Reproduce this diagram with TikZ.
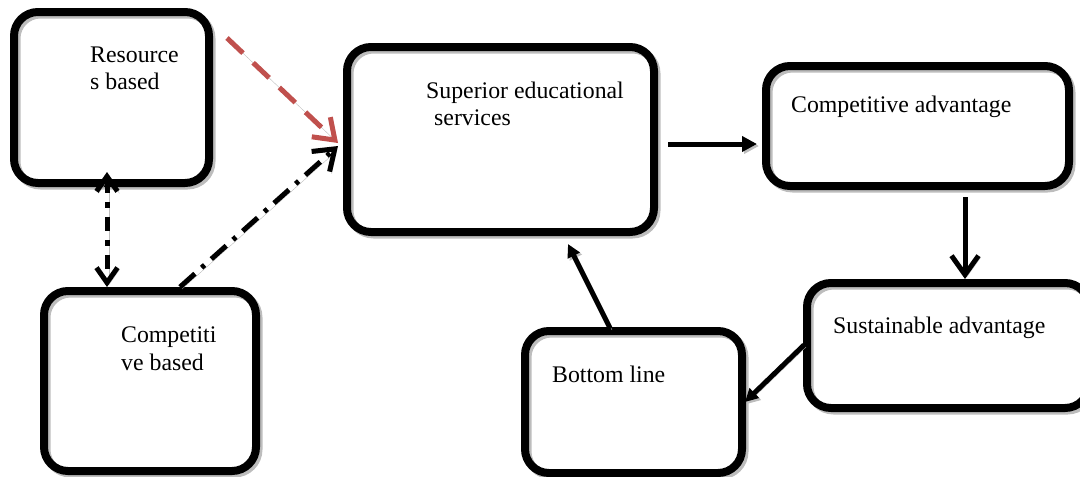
\documentclass[tikz,border=0pt]{standalone}
\usepackage{fontspec}
\setmainfont{Liberation Serif}
\usetikzlibrary{arrows.meta}
\definecolor{redarrow}{HTML}{C0504D}
\definecolor{shadowgray}{HTML}{BDBDBD}
\tikzset{
  box/.style={draw=black, line width=8pt, rounded corners=24pt, inner sep=0pt,
    preaction={draw=shadowgray, line width=8pt, transform canvas={shift={(2.5pt,-2.5pt)}}}},
  lbl/.style={anchor=base west, inner sep=0pt, font=\fontsize{23.8}{27}\selectfont},
  conn/.style={line width=5pt,
    preaction={draw=shadowgray, transform canvas={shift={(2pt,-2pt)}}}},
  bigbarb/.style={-{Straight Barb[length=19pt,width=27pt]}},
  tri/.style={-{Triangle[length=15pt,width=15pt]}},
  dashdot/.style={dash pattern=on 20pt off 9pt on 4pt off 9pt},
}
\begin{document}
\begin{tikzpicture}[x=1pt,y=-1pt]
\useasboundingbox (0,0) rectangle (1080,477);
% boxes
\node[box, minimum width=195pt, minimum height=171pt] (res) at (111.5,97.5) {};
\node[box, minimum width=212pt, minimum height=180pt] (cb) at (150,381) {};
\node[box, minimum width=307pt, minimum height=185pt] (sup) at (500.5,139.5) {};
\node[box, minimum width=303pt, minimum height=120pt] (ca) at (917.5,126) {};
\node[box, minimum width=282pt, minimum height=125pt] (sa) at (948,345.5) {};
\node[box, minimum width=217pt, minimum height=142pt] (bl) at (633.5,402) {};
% texts
\node[lbl] (t1a) at (90,62) {Resource};
\node[lbl] (t1b) at (90,89) {s based};
\node[lbl] (t2a) at (121,342) {Competiti};
\node[lbl] (t2b) at (121,370) {ve based};
\node[lbl] (t3a) at (426,98) {Superior educational};
\node[lbl] (t3b) at (434,125) {services};
\node[lbl] (t4) at (791,112) {Competitive advantage};
\node[lbl] (t5) at (833,333) {Sustainable advantage};
\node[lbl] (t6) at (552,382) {Bottom line};
% connector end points
\coordinate (r1) at (227,38);
\coordinate (s1) at (338,143);
\coordinate (s2) at (338,146);
\coordinate (c1) at (180,287);
\coordinate (v1) at (107,172);
\coordinate (v2) at (107,287);
\coordinate (h1) at (668,144);
\coordinate (h2) at (757,144);
\coordinate (d1) at (965,197);
\coordinate (d2) at (965,279);
\coordinate (b1) at (804,345);
\coordinate (b2) at (745,402);
\coordinate (u1) at (610,328);
\coordinate (u2) at (568,244);
% connectors
\draw[conn, bigbarb, draw=redarrow, dash pattern=on 22pt off 14pt] (r1) -- (s1);
\draw[conn, bigbarb, dashdot] (c1) -- (s2);
\draw[conn, {Straight Barb[length=15pt,width=21pt]}-{Straight Barb[length=15pt,width=21pt]}, dash pattern=on 14pt off 9pt on 6pt off 9pt] (v1) -- (v2);
\draw[conn, tri] (h1) -- (h2);
\draw[conn, bigbarb] (d1) -- (d2);
\draw[conn, -{Triangle[length=13pt,width=13pt]}] (b1) -- (b2);
\draw[conn, -{Triangle[length=13pt,width=13pt]}] (u1) -- (u2);
\end{tikzpicture}
\end{document}
